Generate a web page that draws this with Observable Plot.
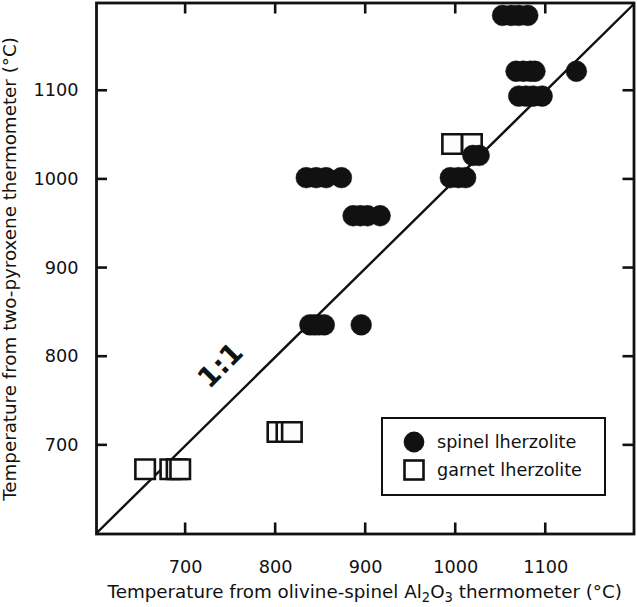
<!DOCTYPE html>
<html>
<head>
<meta charset="utf-8">
<script src="https://cdn.jsdelivr.net/npm/d3@7"></script>
<script src="https://cdn.jsdelivr.net/npm/@observablehq/plot@0.6"></script>
<style>
  html, body { margin: 0; padding: 0; background: #fff; }
  #wrap { position: relative; width: 637px; height: 607px; font-family: "DejaVu Sans", Verdana, sans-serif; color: #111; }
  #wrap > svg { position: absolute; left: 0; top: 0; }
  .lbl { position: absolute; font-size: 18.3px; line-height: 1; white-space: nowrap; }
  sub { font-size: 0.72em; vertical-align: -0.3em; line-height: 0; }
  #legend { position: absolute; left: 381px; top: 417px; width: 221px; height: 75px; border: 2.5px solid #111; background: #fff; }
  #legend .row { position: absolute; left: 0; height: 24px; display: flex; align-items: center; font-size: 17.6px; white-space: nowrap; }
  #legend svg { margin-left: 20px; margin-right: 12px; }
</style>
</head>
<body>
<div id="wrap"></div>
<script>
// ---- data ----
const spinelX = [838, 843, 848, 854, 895,
                 834, 845, 856, 873,
                 886, 894, 902, 916,
                 994, 1003, 1011,
                 1019, 1026,
                 1052, 1062, 1070, 1080,
                 1067, 1075, 1083, 1088, 1134,
                 1070, 1078, 1086, 1096];
const spinelY = [836, 836, 836, 836, 836,
                 1002, 1002, 1002, 1002,
                 959, 959, 959, 959,
                 1002, 1002, 1002,
                 1027, 1027,
                 1185, 1185, 1185, 1185,
                 1122, 1122, 1122, 1122, 1122,
                 1094, 1094, 1094, 1094];
const garnetX = [655, 683, 690, 694, 802, 812, 818, 996, 1018];
const garnetY = [673, 673, 673, 673, 715, 715, 715, 1040, 1040];
const xTicks = [700, 800, 900, 1000, 1100];
const yTicks = [700, 800, 900, 1000, 1100];
const oneToOne = [600, 1200];
const oneLabel = {text: "1:1", x: 739, y: 790};
const xTitle = "Temperature from olivine-spinel Al<sub>2</sub>O<sub>3</sub> thermometer (°C)";
const yTitle = "Temperature from two-pyroxene thermometer (°C)";
const legendItems = ["spinel lherzolite", "garnet lherzolite"];

const spinel = spinelX.map((x, i) => ({x, y: spinelY[i]}));
const garnet = garnetX.map((x, i) => ({x, y: garnetY[i]}));
const diag = oneToOne.map(v => ({x: v, y: v}));

const W = 637, H = 607;
const mL = 96, mR = 3.5, mT = 2.5, mB = 73.5;
const innerW = W - mL - mR;
const tickLen = 11;
const ink = "#111";

const plot = Plot.plot({
  width: W,
  height: H,
  marginLeft: mL,
  marginRight: mR,
  marginTop: mT,
  marginBottom: mB,
  style: {fontFamily: "DejaVu Sans, Verdana, sans-serif", color: ink, background: "#fff"},
  x: {domain: [601, 1198]},
  y: {domain: [600, 1199]},
  marks: [
    Plot.line(diag, {x: "x", y: "y", stroke: ink, strokeWidth: 2.4, clip: true}),
    Plot.dot(garnet, {x: "x", y: "y", symbol: "square", r: 11, fill: "#fcfcfc", stroke: ink, strokeWidth: 2.6}),
    Plot.dot(spinel, {x: "x", y: "y", r: 10.4, fill: ink, stroke: ink, strokeWidth: 0.5}),
    Plot.text([oneLabel], {x: "x", y: "y", text: "text", rotate: -45, fontSize: 28, fontWeight: "bold", fill: ink}),
    Plot.axisX(xTicks, {anchor: "bottom", tickSize: 0, tickPadding: 26, fontSize: 17.7, label: null, fill: ink, tickFormat: d => String(d)}),
    Plot.axisY(yTicks, {anchor: "left", tickSize: 0, tickPadding: 18, fontSize: 17.7, label: null, fill: ink, tickFormat: d => String(d)}),
    Plot.frame({stroke: ink, strokeWidth: 2.8})
  ]
});

const wrap = document.getElementById("wrap");
wrap.appendChild(plot);

// inward ticks on all four sides, positioned with the plot's own scales
const sx = plot.scale("x"), sy = plot.scale("y");
const svg = d3.select(plot);
const g = svg.append("g").attr("stroke", ink).attr("stroke-width", 2.6);
const x0 = mL, x1 = W - mR, y0 = mT, y1 = H - mB;
xTicks.forEach(v => {
  const px = sx.apply(v);
  g.append("line").attr("x1", px).attr("x2", px).attr("y1", y1).attr("y2", y1 - tickLen);
  g.append("line").attr("x1", px).attr("x2", px).attr("y1", y0).attr("y2", y0 + tickLen);
});
yTicks.forEach(v => {
  const py = sy.apply(v);
  g.append("line").attr("y1", py).attr("y2", py).attr("x1", x0).attr("x2", x0 + tickLen);
  g.append("line").attr("y1", py).attr("y2", py).attr("x1", x1).attr("x2", x1 - tickLen);
});

// y-axis title (rotated), as SVG text
svg.append("text")
  .attr("transform", "translate(10,269) rotate(-90)")
  .attr("text-anchor", "middle")
  .attr("dy", "0.35em")
  .attr("fill", ink)
  .style("font-size", "18.3px")
  .style("font-family", "DejaVu Sans, Verdana, sans-serif")
  .text(yTitle);

// x-axis title with subscripts
const xl = document.createElement("div");
xl.className = "lbl";
xl.style.cssText = `left:${mL}px;width:${innerW}px;top:583px;text-align:center;`;
xl.innerHTML = xTitle;
wrap.appendChild(xl);

// legend inside the frame
const lg = document.createElement("div");
lg.id = "legend";
const sym = [
  '<svg width="22" height="22"><circle cx="11" cy="11" r="10.4" fill="#111"/></svg>',
  '<svg width="22" height="22"><rect x="1.5" y="1.5" width="19" height="19" fill="#fff" stroke="#111" stroke-width="2.6"/></svg>'
];
legendItems.forEach((t, i) => {
  const r = document.createElement("div");
  r.className = "row";
  r.style.top = (i === 0 ? 11 : 39) + "px";
  r.innerHTML = sym[i] + "<span>" + t + "</span>";
  lg.appendChild(r);
});
wrap.appendChild(lg);
</script>
</body>
</html>
